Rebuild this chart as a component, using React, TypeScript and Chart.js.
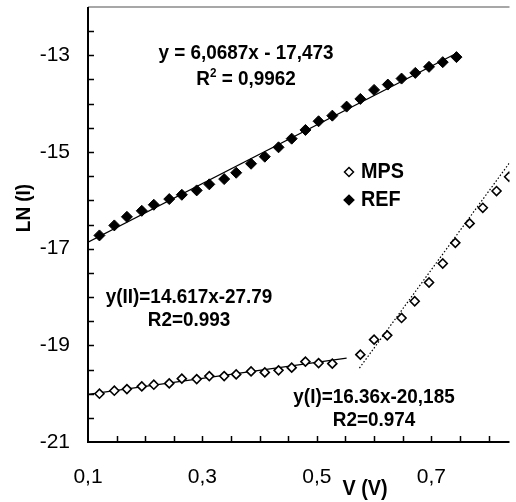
import React, { useEffect, useRef } from "react";
import { Chart, registerables } from "chart.js";

Chart.register(...registerables);

const voltages = [0.120, 0.146, 0.168, 0.194, 0.215, 0.242, 0.264, 0.290, 0.312, 0.338, 0.359, 0.385, 0.409, 0.433, 0.456, 0.480, 0.503, 0.527, 0.552, 0.576, 0.600, 0.624, 0.648, 0.672, 0.696, 0.720, 0.744];
const refLn = [-16.726, -16.519, -16.341, -16.217, -16.092, -15.974, -15.885, -15.794, -15.669, -15.560, -15.429, -15.243, -15.097, -14.903, -14.724, -14.544, -14.364, -14.248, -14.061, -13.902, -13.715, -13.605, -13.481, -13.363, -13.238, -13.141, -13.037];

const mpsV = [0.120, 0.146, 0.168, 0.194, 0.215, 0.242, 0.264, 0.290, 0.312, 0.338, 0.359, 0.385, 0.409, 0.433, 0.456, 0.480, 0.503, 0.527, 0.576, 0.600, 0.623, 0.648, 0.671, 0.696, 0.720, 0.742, 0.767, 0.790, 0.814, 0.836];
const mpsLn = [-20.001, -19.939, -19.906, -19.850, -19.815, -19.788, -19.690, -19.699, -19.636, -19.636, -19.601, -19.539, -19.560, -19.518, -19.462, -19.338, -19.367, -19.379, -19.193, -18.882, -18.793, -18.434, -18.088, -17.700, -17.307, -16.880, -16.478, -16.154, -15.808, -15.512];

const refFitX = [0.1, 0.745];
const refFitY = [-16.866, -12.952];
const mpsFit2X = [0.1, 0.552];
const mpsFit2Y = [-20.015, -19.263];
const mpsFit1X = [0.5744, 0.84];
const mpsFit1Y = [-19.47, -15.17];

const xTickLabels = [0.1, 0.3, 0.5, 0.7];
const yTickLabels = [-13, -15, -17, -19, -21];

const refEq = "y = 6,0687x - 17,473";
const refR2 = "0,9962";
const mps2Eq = "y(II)=14.617x-27.79";
const mps2R = "R2=0.993";
const mps1Eq = "y(I)=16.36x-20,185";
const mps1R = "R2=0.974";

const FONT = "'Liberation Sans', Arial, sans-serif";
const SX = 0.9;

const pts = (xs: number[], ys: number[]) => xs.map((x, i) => ({ x, y: ys[i] }));

function txt(ctx: any, s: string, cx: number, cy: number, size: number, align: string = "center") {
  ctx.save();
  ctx.font = `bold ${size}px ${FONT}`;
  ctx.textAlign = align;
  ctx.textBaseline = "middle";
  ctx.translate(cx, cy);
  ctx.scale(SX, 1);
  ctx.fillText(s, 0, 0);
  ctx.restore();
}

const overlay = {
  id: "overlay",
  afterDraw(chart: any) {
    const { ctx, chartArea: a, scales } = chart;
    const xs = scales.x, ys = scales.y;
    ctx.save();
    ctx.strokeStyle = "#8a8a8a";
    ctx.lineWidth = 1.5;
    ctx.beginPath();
    ctx.moveTo(a.left, a.top);
    ctx.lineTo(a.right, a.top);
    ctx.stroke();
    ctx.strokeStyle = "#000";
    ctx.lineWidth = 2;
    ctx.beginPath();
    ctx.moveTo(a.left, a.top);
    ctx.lineTo(a.left, a.bottom);
    ctx.lineTo(a.right, a.bottom);
    ctx.stroke();
    ctx.lineWidth = 1.5;
    ctx.beginPath();
    for (let v = -20.5; v <= -12.01; v += 0.5) {
      const y = Math.round(ys.getPixelForValue(v)) + 0.5;
      ctx.moveTo(a.left, y);
      ctx.lineTo(a.left + 6, y);
    }
    for (let v = 0.15; v <= 0.85; v += 0.05) {
      const x = Math.round(xs.getPixelForValue(v)) + 0.5;
      if (x > a.right) break;
      ctx.moveTo(x, a.bottom);
      ctx.lineTo(x, a.bottom - 6);
    }
    ctx.stroke();

    ctx.fillStyle = "#000";
    txt(ctx, refEq, 246, 53, 21);
    {
      ctx.save();
      ctx.font = `bold 21px ${FONT}`;
      const w1 = ctx.measureText("R").width * SX;
      const w3 = ctx.measureText(" = " + refR2).width * SX;
      ctx.font = `bold 13px ${FONT}`;
      const w2 = ctx.measureText("2").width * SX;
      ctx.restore();
      const x0 = 246 - (w1 + w2 + w3) / 2;
      txt(ctx, "R", x0, 79, 21, "left");
      txt(ctx, "2", x0 + w1, 73, 13, "left");
      txt(ctx, " = " + refR2, x0 + w1 + w2, 79, 21, "left");
    }
    txt(ctx, mps2Eq, 189, 297, 21);
    txt(ctx, mps2R, 189, 320, 21);
    txt(ctx, mps1Eq, 374, 397, 21);
    txt(ctx, mps1R, 374, 420, 21);

    const diamond = (cx: number, cy: number, r: number, filled: boolean) => {
      ctx.beginPath();
      ctx.moveTo(cx, cy - r);
      ctx.lineTo(cx + r, cy);
      ctx.lineTo(cx, cy + r);
      ctx.lineTo(cx - r, cy);
      ctx.closePath();
      ctx.fillStyle = filled ? "#000" : "#fff";
      ctx.fill();
      ctx.lineWidth = 1.5;
      ctx.strokeStyle = "#000";
      ctx.stroke();
    };
    diamond(349, 172, 4.5, false);
    diamond(349, 200, 4.8, true);
    ctx.fillStyle = "#000";
    txt(ctx, "MPS", 361, 172, 22, "left");
    txt(ctx, "REF", 361, 200, 22, "left");

    txt(ctx, "V (V)", 365, 489, 22);
    ctx.save();
    ctx.translate(24, 208);
    ctx.rotate(-Math.PI / 2);
    txt(ctx, "LN (I)", 0, 0, 21);
    ctx.restore();
    ctx.restore();
  },
};

export default function App() {
  const ref = useRef<HTMLCanvasElement | null>(null);
  useEffect(() => {
    if (!ref.current) return;
    const chart = new Chart(ref.current, {
      type: "scatter",
      data: {
        datasets: [
          {
            label: "REF",
            data: pts(voltages, refLn),
            pointStyle: "rectRot",
            pointRadius: 5.5,
            backgroundColor: "#000",
            borderColor: "#000",
            borderWidth: 1,
            order: 0,
          },
          {
            label: "MPS",
            data: pts(mpsV, mpsLn),
            pointStyle: "rectRot",
            pointRadius: 4.5,
            backgroundColor: "#fff",
            borderColor: "#000",
            borderWidth: 1.6,
            order: 0,
          },
          {
            label: "REF fit",
            data: pts(refFitX, refFitY),
            showLine: true,
            pointRadius: 0,
            borderColor: "#000",
            borderWidth: 1.3,
            order: 2,
          },
          {
            label: "MPS II fit",
            data: pts(mpsFit2X, mpsFit2Y),
            showLine: true,
            pointRadius: 0,
            borderColor: "#000",
            borderWidth: 1.3,
            order: 2,
          },
          {
            label: "MPS I fit",
            data: pts(mpsFit1X, mpsFit1Y),
            showLine: true,
            pointRadius: 0,
            borderColor: "#000",
            borderWidth: 1.2,
            borderDash: [1.5, 2],
            order: 2,
          },
        ],
      },
      options: {
        animation: false,
        responsive: false,
        events: [],
        layout: { padding: { top: 7, right: 0, left: 0, bottom: 0 } },
        plugins: { legend: { display: false }, tooltip: { enabled: false } },
        scales: {
          x: {
            type: "linear",
            min: 0.1,
            max: 0.1 + 428 / 581,
            grid: { display: false, drawTicks: false },
            border: { display: false },
            afterBuildTicks: (s: any) => {
              s.ticks = xTickLabels.map((v) => ({ value: v }));
            },
            afterFit: (s: any) => {
              s.height = 60;
              s.paddingLeft = 0;
              s.paddingRight = 0;
              s.paddingTop = 0;
              s.paddingBottom = 0;
            },
            ticks: {
              autoSkip: false,
              maxRotation: 0,
              padding: 23,
              color: "#000",
              font: { family: FONT, size: 21 },
              callback: (v: any) => Number(v).toFixed(1).replace(".", ","),
            },
          },
          y: {
            type: "linear",
            min: -21,
            max: -12,
            grid: { display: false, drawTicks: false },
            border: { display: false },
            afterBuildTicks: (s: any) => {
              s.ticks = yTickLabels.map((v) => ({ value: v }));
            },
            afterFit: (s: any) => {
              s.width = 88;
              s.paddingLeft = 0;
              s.paddingRight = 0;
              s.paddingTop = 0;
              s.paddingBottom = 0;
            },
            ticks: {
              autoSkip: false,
              padding: 18,
              color: "#000",
              font: { family: FONT, size: 21 },
              callback: (v: any) => String(v),
            },
          },
        },
      },
      plugins: [overlay],
    });
    return () => chart.destroy();
  }, []);
  return (
    <div style={{ position: "fixed", left: 0, top: 0, width: 516, height: 502, background: "#fff" }}>
      <canvas ref={ref} width={516} height={502} style={{ display: "block" }} />
    </div>
  );
}
